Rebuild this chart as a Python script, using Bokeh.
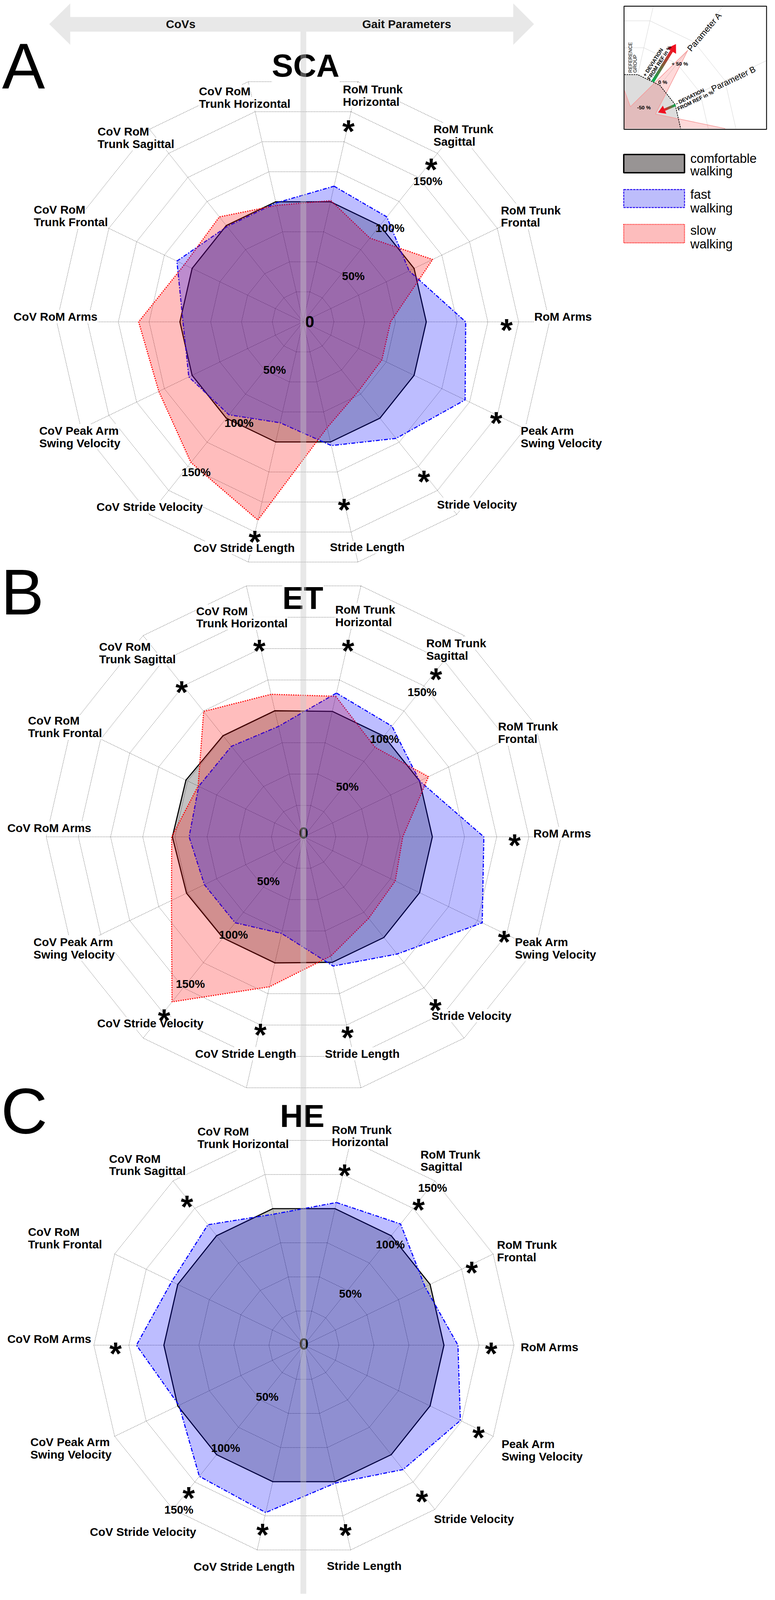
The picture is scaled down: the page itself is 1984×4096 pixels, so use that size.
import math
from bokeh.plotting import figure
from bokeh.models import Range1d, Label, BoxAnnotation
from bokeh.embed import file_html
from bokeh.resources import INLINE

# ------------------------------------------------------------------ data
categories = ["RoM Trunk Horizontal", "RoM Trunk Sagittal", "RoM Trunk Frontal", "RoM Arms",
              "Peak Arm Swing Velocity", "Stride Velocity", "Stride Length",
              "CoV Stride Length", "CoV Stride Velocity", "CoV Peak Arm Swing Velocity",
              "CoV RoM Arms", "CoV RoM Trunk Frontal", "CoV RoM Trunk Sagittal",
              "CoV RoM Trunk Horizontal"]
label_lines = [["RoM Trunk", "Horizontal"], ["RoM Trunk", "Sagittal"], ["RoM Trunk", "Frontal"],
               ["RoM Arms"], ["Peak Arm", "Swing Velocity"], ["Stride Velocity"], ["Stride Length"],
               ["CoV Stride Length"], ["CoV Stride Velocity"], ["CoV Peak Arm", "Swing Velocity"],
               ["CoV RoM Arms"], ["CoV RoM", "Trunk Frontal"], ["CoV RoM", "Trunk Sagittal"],
               ["CoV RoM", "Trunk Horizontal"]]
group_names = ["SCA", "ET", "HE"]
panel_letters = ["A", "B", "C"]

sca_comfortable = [100, 100, 100, 100, 100, 100, 100, 100, 100, 100, 100, 100, 100, 100]
sca_fast = [113, 109, 95.5, 132, 146, 121, 103, 84, 96.5, 103, 97.5, 113.7, 99, 99]
sca_slow = [101, 87, 116.7, 71, 71, 72, 88, 165, 146, 130, 133.5, 107, 109, 97]

et_comfortable = [100, 100, 100, 100, 100, 100, 100, 100.5, 100.5, 101, 102, 101.5, 100.5, 100.5]
et_fast = [114.6, 110, 100, 140, 154, 116.5, 103, 77, 85.4, 85.6, 89, 90.5, 90, 88]
et_slow = [112, 89, 107.6, 77, 79, 81, 95, 119.5, 164, 114, 102.5, 91, 124.6, 113.6]

he_comfortable = [100, 100, 100, 100, 100, 100, 100, 100, 100, 100, 100, 100, 100, 100]
he_fast = [104.5, 110.7, 96, 110, 124, 113.6, 101, 122.6, 119.8, 99, 119.6, 104.8, 110, 96]

sca_sig_axes = [0, 1, 3, 4, 5, 6, 7]
et_sig_axes = [13, 0, 1, 12, 3, 4, 5, 6, 7, 8]
he_sig_axes = [0, 1, 2, 3, 4, 5, 6, 7, 8, 10, 12]

ring_levels = [25, 50, 75, 100, 125, 150, 175, 200]
tick_labels = ["50%", "100%", "150%"]
series_names = ["comfortable", "fast", "slow"]
legend_lines = [["comfortable", "walking"], ["fast", "walking"], ["slow", "walking"]]
header_texts = ["CoVs", "Gait Parameters"]

panels_data = [
    {"comfortable": sca_comfortable, "fast": sca_fast, "slow": sca_slow, "sig": sca_sig_axes},
    {"comfortable": et_comfortable, "fast": et_fast, "slow": et_slow, "sig": et_sig_axes},
    {"comfortable": he_comfortable, "fast": he_fast, "slow": None, "sig": he_sig_axes},
]

# ------------------------------------------------------------------ layout (reference pixel units)
S = 1984 / 2806.0
BASE_FIX = 0.30          # alphabetic baseline correction (fraction of font size)
panel_center = [(1108, 1176), (1110, 3040.5), (1111, 4881)]
panel_r100 = [446, 466, 507]
panel_grid_max = [200, 200, 150]
sig_radius = [
    [1.657, 1.668, 1.652, 1.74, 1.574, 1.496, 1.762],
    [1.548, 1.55, 1.649, 1.52, 1.639, 1.729, 1.641, 1.532, 1.51, 1.739],
    [1.305, 1.313, 1.33, 1.337, 1.384, 1.351, 1.331, 1.327, 1.32, 1.345, 1.34],
]
pct_offsets = [
    [(0.408, -0.377), (0.706, -0.767), (1.013, -1.148), (-0.231, 0.383), (-0.52, 0.816), (-0.868, 1.215)],
    [(0.34, -0.395), (0.628, -0.765), (0.92, -1.13), (-0.274, 0.34), (-0.545, 0.753), (-0.88, 1.137)],
    [(0.332, -0.374), (0.617, -0.726), (0.919, -1.128), (-0.262, 0.362), (-0.559, 0.73), (-0.893, 1.17)],
]
zero_pos = [(1132, 1176), (1110, 3027), (1111, 4877)]
title_pos = [(1117, 283), (1107, 2210), (1105, 4085)]
letter_pos = [(18, 320), (14, 2224), (14, 4103)]
label_pos = [
    [(1252, 330.6), (1580, 475), (1824, 768.6), (1945, 1153.6), (1896, 1566.6), (1593, 1833.5),
     (1205, 1988), (711.5, 1990.6), (360, 1843), (152.6, 1566.6), (59.5, 1153.6), (133, 767),
     (364, 483.6), (731, 337.6)],
    [(1224.5, 2215), (1554, 2336), (1814, 2638), (1942, 3024.5), (1875, 3418), (1573, 3685),
     (1187, 3822.5), (717, 3822.5), (362.5, 3712.7), (132, 3418), (37, 3005), (112, 2617),
     (369.5, 2349), (721, 2219.6)],
    [(1212, 4098), (1533, 4187), (1810, 4515), (1896, 4885), (1826.5, 5235.4), (1582, 5506.5),
     (1194, 5677.5), (711.5, 5680), (336, 5553.8), (120.6, 5228.5), (37, 4854.5), (112, 4468),
     (405.6, 4202.5), (725.4, 4103.8)],
]
line_gap = 45
axis_angles = [77.142857 - i * 25.714286 for i in range(14)]

styles = {
    "comfortable": dict(line_color="black", line_dash="solid", fill_color="black", fill_alpha=0.24),
    "fast": dict(line_color="#0000FF", line_dash="10 4 3 4", fill_color="#0000FF", fill_alpha=0.26),
    "slow": dict(line_color="#FF0000", line_dash="3 3", fill_color="#FF0000", fill_alpha=0.26),
}


def fs(full):
    return "%.1fpx" % (full * S)


def polar(c, r100, val, ang):
    a = math.radians(ang)
    return c[0] + r100 * val / 100.0 * math.cos(a), c[1] - r100 * val / 100.0 * math.sin(a)


x0 = 8 / S
x1 = (8 + 1968) / S
y0 = 8 / S
y1 = (8 + 4080) / S
p = figure(width=1968, height=4080, x_range=Range1d(x0, x1), y_range=Range1d(y1, y0),
           output_backend="svg", toolbar_location=None, min_border=0,
           x_axis_location=None, y_axis_location=None)
p.xgrid.grid_line_color = None
p.ygrid.grid_line_color = None
p.outline_line_color = None
p.background_fill_color = "white"
p.border_fill_color = "white"


def label(x, y, text, size, bold=True, align="left", baseline="middle", bg=None,
          color="black", angle=0, font="Liberation Sans"):
    kw = dict(x=x, y=y, text=text, text_font=font, text_font_size=fs(size),
              text_font_style="bold" if bold else "normal", text_align=align,
              text_baseline=baseline, text_color=color, angle=angle, angle_units="deg")
    if bg:
        kw.update(background_fill_color=bg, background_fill_alpha=1.0)
    p.add_layout(Label(**kw))


# ------------------------------------------------------------------ header arrow
arrow_x = [189, 265, 265, 1869, 1869, 1944, 1869, 1869, 265, 265]
arrow_y = [98, 23, 72, 72, 23, 98, 173, 125, 125, 173]
p.patch(arrow_x, arrow_y, fill_color="#E8E8E8", line_color=None)

# ------------------------------------------------------------------ radar panels
for pi in range(3):
    c = panel_center[pi]
    R = panel_r100[pi]
    gmax = panel_grid_max[pi]
    d = panels_data[pi]
    xs, ys = [], []
    for lev in ring_levels:
        if lev > gmax:
            continue
        pts = [polar(c, R, lev, a) for a in axis_angles]
        pts.append(pts[0])
        xs.append([q[0] for q in pts])
        ys.append([q[1] for q in pts])
    for a in axis_angles:
        e = polar(c, R, gmax, a)
        xs.append([c[0], e[0]])
        ys.append([c[1], e[1]])
    p.multi_line(xs, ys, line_color="#1a1a1a", line_width=0.9, line_dash="2 2", line_alpha=0.9)

    def closed(vals):
        pts = [polar(c, R, v, a) for v, a in zip(vals, axis_angles)]
        return [q[0] for q in pts] + [pts[0][0]], [q[1] for q in pts] + [pts[0][1]]

    cx, cy = closed(d["comfortable"])
    st = styles["comfortable"]
    p.patch(cx, cy, fill_color=st["fill_color"], fill_alpha=st["fill_alpha"], line_color=None)
    p.line(cx, cy, line_color=st["line_color"], line_width=4 * S, line_join="miter")
    others = [n for n in ["fast", "slow"] if d[n] is not None]
    for n in others:
        st = styles[n]
        ox, oy = closed(d[n])
        p.line(ox, oy, line_color=st["line_color"], line_width=4 * S, line_dash=st["line_dash"])
    for n in ["slow", "fast"]:
        if d[n] is None:
            continue
        st = styles[n]
        ox, oy = closed(d[n])
        p.patch(ox, oy, fill_color=st["fill_color"], fill_alpha=st["fill_alpha"], line_color=None)

# ------------------------------------------------------------------ inset (schematic)
inset_frame = [2270, 2786, 33, 479]
inset_origin = (2275, 476)
inset_axes_deg = [0.0, 25.714, 51.429, 77.143]
inset_rings = [100, 300, 400]
inset_ref = 200
inset_param = [361, 121, 362, 81]
inset_param_left = 343
ox0, oy0 = inset_origin
L = inset_frame[0] + 1


def ipt(r, a):
    t = math.radians(a)
    return ox0 + r * math.cos(t), oy0 - r * math.sin(t)


gx, gy = [], []
for r in inset_rings:
    pts = [ipt(r, a) for a in inset_axes_deg]
    pts.append((L, pts[-1][1]))
    gx.append([q[0] for q in pts])
    gy.append([q[1] for q in pts])
for a in inset_axes_deg[1:]:
    t = math.radians(a)
    rr = min((inset_frame[1] - ox0) / max(math.cos(t), 1e-6), (oy0 - inset_frame[2]) / math.sin(t))
    e = ipt(rr, a)
    gx.append([ox0, e[0]])
    gy.append([oy0, e[1]])
p.multi_line(gx, gy, line_color="#D4D4D4", line_width=1.0)

ref_pts = [ipt(inset_ref, a) for a in inset_axes_deg][::-1]
ref_line = [(L, ref_pts[0][1])] + ref_pts
ref_poly = ref_line + [(L, oy0)]
p.patch([q[0] for q in ref_poly], [q[1] for q in ref_poly], fill_color="#DDDDDD", line_color=None)

par_pts = [ipt(v, a) for v, a in zip(inset_param, inset_axes_deg)][::-1]
vl = ipt(inset_param_left, 102.857)
t = (L - vl[0]) / (par_pts[0][0] - vl[0])
clip_pt = (L, vl[1] + t * (par_pts[0][1] - vl[1]))
par_line = [clip_pt] + par_pts
par_poly = par_line + [(L, oy0)]
p.patch([q[0] for q in par_poly], [q[1] for q in par_poly], fill_color="#FF0000", fill_alpha=0.15,
        line_color=None)
p.line([q[0] for q in par_line], [q[1] for q in par_line], line_color="#F59A9A", line_width=1.6)
p.line([q[0] for q in ref_line], [q[1] for q in ref_line], line_color="black", line_width=1.8,
       line_dash="4 2")

inset_arrows = [((2374, 306), (2458, 170), 11, 30, 19), ((2456, 391), (2393, 418), 9, 26, 16)]
for (sx, sy), (tx, ty), w, hl, hw in inset_arrows:
    dx, dy = tx - sx, ty - sy
    ln = math.hypot(dx, dy)
    ux, uy = dx / ln, dy / ln
    ex, ey = tx - hl * ux, ty - hl * uy
    n = 12
    segx, segy, cols = [], [], []
    for k in range(n):
        f0, f1 = k / n, (k + 1) / n
        segx.append([sx + (ex - sx) * f0, sx + (ex - sx) * f1 + ux * 0.5])
        segy.append([sy + (ey - sy) * f0, sy + (ey - sy) * f1 + uy * 0.5])
        fm = (k + 0.5) / n
        r_ = int(0 + 235 * fm)
        g_ = int(176 - 150 * fm)
        b_ = int(80 - 40 * fm)
        cols.append("#%02x%02x%02x" % (r_, g_, b_))
    p.multi_line(segx, segy, line_color=cols, line_width=w * S, line_cap="butt")
    px_, py_ = -uy, ux
    p.patch([tx, ex + hw * px_, ex - hw * px_], [ty, ey + hw * py_, ey - hw * py_],
            fill_color="#F01020", line_color=None)

p.quad(left=[inset_frame[0]], right=[inset_frame[1]], top=[inset_frame[2]], bottom=[inset_frame[3]],
       fill_color=None, line_color="black", line_width=2.2)

# ------------------------------------------------------------------ legend swatches
legend_box_x = (2269, 2489)
legend_box_y = [(570, 636), (697, 762), (823, 890)]
legend_fill = ["#989494", "#BDBDFB", "#FDBDBD"]
legend_line = [("black", "solid", 3.6), ("#2A10F0", "6 2", 2.4), ("#FF0000", "2 2", 2.4)]
for (yt, yb), fc, (lc, ld, lw) in zip(legend_box_y, legend_fill, legend_line):
    p.quad(left=[legend_box_x[0]], right=[legend_box_x[1]], top=[yt], bottom=[yb],
           fill_color=fc, line_color=lc, line_dash=ld, line_width=lw)

# ------------------------------------------------------------------ texts
label(665, 98, header_texts[0], 42, baseline="middle", align="center", color="#111111")
label(1483, 98, header_texts[1], 42, baseline="middle", align="center", color="#111111")

legend_baselines = [(591, 636), (721, 770), (851, 900)]
for lines, bls in zip(legend_lines, legend_baselines):
    for t_, b_ in zip(lines, bls):
        label(2510, b_ - 6, t_, 46, bold=False, baseline="alphabetic")

label(2505, 192, "Parameter A", 31, bold=False, baseline="alphabetic", angle=49.6)
label(2588, 334, "Parameter B", 31, bold=False, baseline="alphabetic", angle=25.7)
label(2293, 274, "REFERENCE", 18, bold=False, baseline="alphabetic", angle=90)
label(2310, 274, "GROUP", 18, bold=False, baseline="alphabetic", angle=90)
label(2343, 286, "+ DEVIATION", 19, baseline="alphabetic", angle=57)
label(2359, 298, "FROM REF in %", 19, baseline="alphabetic", angle=57)
label(2458, 386, "- DEVIATION", 19, baseline="alphabetic", angle=26)
label(2464, 406, "FROM REF in %", 19, baseline="alphabetic", angle=26)
label(2410, 309, "0 %", 19, align="center")
label(2472, 242, "+ 50 %", 19, align="center")
label(2342, 400, "-50 %", 19, align="center")

AST = 115
for pi in range(3):
    c = panel_center[pi]
    R = panel_r100[pi]
    for i, lines in enumerate(label_lines):
        lx, ly = label_pos[pi][i]
        for k, t_ in enumerate(lines):
            label(lx, ly + 3 + k * line_gap, t_, 42, bg="white")
    label(title_pos[pi][0], title_pos[pi][1] - BASE_FIX * 116, group_names[pi], 116,
          align="center", baseline="alphabetic", bg="white")
    label(letter_pos[pi][0], letter_pos[pi][1] - BASE_FIX * 233, panel_letters[pi], 233,
          bold=False, baseline="alphabetic")
    for k, (fx, fy) in enumerate(pct_offsets[pi]):
        label(c[0] + fx * R, c[1] + fy * R + 3, tick_labels[k % 3], 41, align="center")
    label(zero_pos[pi][0], zero_pos[pi][1], "0", 60, align="center")
    for ax, rr in zip(panels_data[pi]["sig"], sig_radius[pi]):
        ax_x, ax_y = polar(c, R, rr * 100, axis_angles[ax])
        label(ax_x, ax_y + (0.557 - BASE_FIX) * AST, "*", AST, align="center",
              baseline="alphabetic")

p.add_layout(BoxAnnotation(left=1098.5, right=1119.5, top=125, bottom=5793,
                           fill_color="#C8C8C8", fill_alpha=0.42, line_color=None))

open("out.html", "w").write(file_html(p, INLINE))
